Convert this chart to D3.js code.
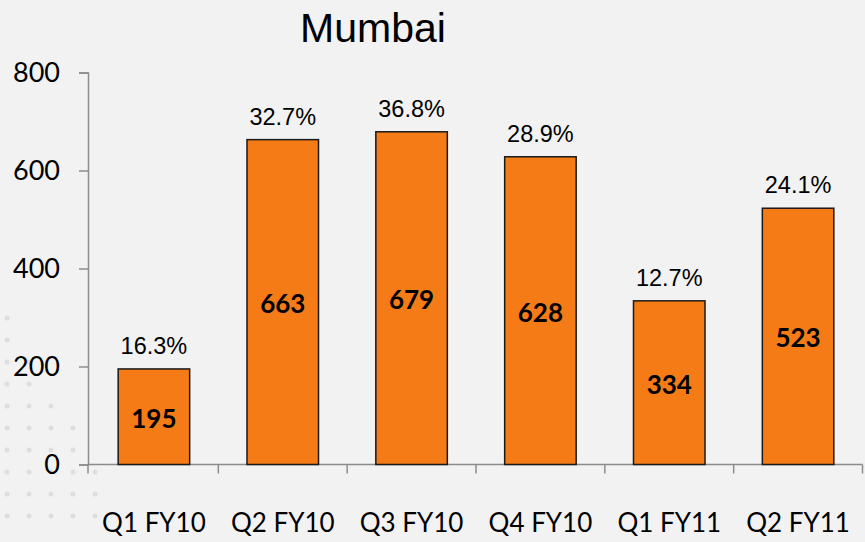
<!DOCTYPE html>
<html><head><meta charset="utf-8">
<script src="https://cdn.jsdelivr.net/npm/d3@7"></script>
<style>
html,body{margin:0;padding:0;background:#f2f2f2;}
svg{display:block;}
</style></head>
<body>
<svg id="chart" width="865" height="542"></svg>
<script>
const categories = ["Q1 FY10","Q2 FY10","Q3 FY10","Q4 FY10","Q1 FY11","Q2 FY11"];
const values = [195, 663, 679, 628, 334, 523];
const growth = ["16.3%","32.7%","36.8%","28.9%","12.7%","24.1%"];
const yTicks = [0, 200, 400, 600, 800];
const title = "Mumbai";

const svg = d3.select("#chart");
const W = 865, H = 542;
svg.append("rect").attr("width", W).attr("height", H).attr("fill", "#f2f2f2");

// faint decorative dot pattern (background)
const dots = [];
for (let j = 0; j < 10; j++) {
  const yy = 318 + j * 22;
  const n = Math.min(5, 1 + Math.floor(j / 1.6));
  for (let i = 0; i < n; i++) dots.push([7 + i * 22, yy]);
}
svg.append("g").selectAll("circle").data(dots).join("circle")
  .attr("cx", d => d[0]).attr("cy", d => d[1]).attr("r", 2.5).attr("fill", "#dedede");

const x = d3.scaleBand().domain(categories).range([89.5, 862.5]).paddingInner(0.445).paddingOuter(0.2225);
const y = d3.scaleLinear().domain([0, 800]).range([464.5, 72.5]);

// title
svg.append("text").attr("x", 373).attr("y", 42).attr("text-anchor", "middle")
  .attr("font-family", "Liberation Sans, Arial, sans-serif").attr("font-size", 41)
  .attr("fill", "#000").text(title);

// y axis
const yAxis = svg.append("g").attr("transform", "translate(88,0)")
  .call(d3.axisLeft(y).tickValues(yTicks).tickSize(9).tickPadding(19).tickFormat(d3.format("d")));
yAxis.select(".domain").attr("stroke", "#8c8c8c").attr("stroke-width", 1.5);
yAxis.selectAll(".tick line").attr("stroke", "#8c8c8c").attr("stroke-width", 1.5);
yAxis.selectAll(".tick text").attr("font-family", "Lato, sans-serif").attr("font-size", 27).attr("fill", "#000");

// x axis
const step = x.step();
const x0 = x.range()[0];
const xAxisG = svg.append("g").attr("transform", "translate(0,464.5)");
xAxisG.append("line").attr("x1", 88).attr("x2", 862.5).attr("stroke", "#8c8c8c").attr("stroke-width", 1.5);
xAxisG.selectAll("line.tk").data(d3.range(categories.length + 1)).join("line").attr("class", "tk")
  .attr("x1", i => i === 0 ? 88 : x0 + i * step).attr("x2", i => i === 0 ? 88 : x0 + i * step)
  .attr("y1", 0).attr("y2", 9).attr("stroke", "#8c8c8c").attr("stroke-width", 1.5);
xAxisG.selectAll("text").data(categories).join("text")
  .attr("x", d => x(d) + x.bandwidth() / 2).attr("y", 67)
  .attr("text-anchor", "middle").attr("font-family", "Lato, sans-serif").attr("font-size", 26)
  .attr("fill", "#000").text(d => d);

// bars
svg.selectAll("rect.bar").data(values).join("rect").attr("class", "bar")
  .attr("x", (d, i) => x(categories[i])).attr("width", x.bandwidth())
  .attr("y", d => y(d)).attr("height", d => y(0) - y(d))
  .attr("fill", "#f47b16").attr("stroke", "#1a1a1a").attr("stroke-width", 1.5);

// value labels
svg.selectAll("text.val").data(values).join("text").attr("class", "val")
  .attr("x", (d, i) => x(categories[i]) + x.bandwidth() / 2)
  .attr("y", d => (y(d) + y(0)) / 2 + 11)
  .attr("text-anchor", "middle").attr("font-family", "Lato, sans-serif").attr("font-weight", "bold")
  .attr("font-size", 26).attr("fill", "#000").text(d => d);

// growth labels
svg.selectAll("text.gr").data(values).join("text").attr("class", "gr")
  .attr("x", (d, i) => x(categories[i]) + x.bandwidth() / 2)
  .attr("y", d => y(d) - 15)
  .attr("text-anchor", "middle").attr("font-family", "Liberation Sans, Arial, sans-serif")
  .attr("font-size", 23.5).attr("fill", "#000").text((d, i) => growth[i]);
</script>
</body></html>
